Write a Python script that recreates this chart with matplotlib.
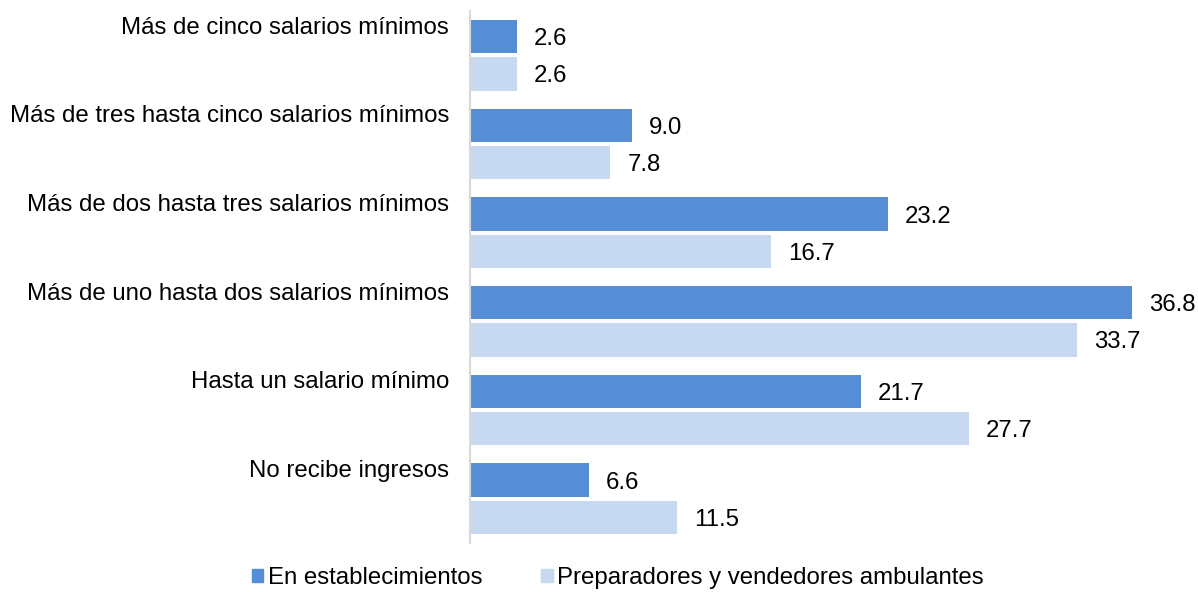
import matplotlib.pyplot as plt
import matplotlib.patches as mpatches
import numpy as np

plt.rcParams["font.family"] = ["Liberation Sans", "DejaVu Sans"]

# ── DATA ──────────────────────────────────────────────────────────────────────
categories = [
    "No recibe ingresos",
    "Hasta un salario mínimo",
    "Más de uno hasta dos salarios mínimos",
    "Más de dos hasta tres salarios mínimos",
    "Más de tres hasta cinco salarios mínimos",
    "Más de cinco salarios mínimos",
]
establecimientos = [6.6, 21.7, 36.8, 23.2, 9.0, 2.6]
ambulantes = [11.5, 27.7, 33.7, 16.7, 7.8, 2.6]
series_names = ["En establecimientos", "Preparadores y vendedores ambulantes"]

# ── THEME ─────────────────────────────────────────────────────────────────────
DARK = "#558ED5"
LIGHT = "#C6D9F1"
FS = 17.3

fig = plt.figure(figsize=(11.98, 5.92), dpi=100)
ax = fig.add_axes([470 / 1198, 1 - 543 / 592, 720 / 1198, 532 / 592])

y = np.arange(len(categories))
h = 0.375
off = 0.21
b1 = ax.barh(y + off, establecimientos, height=h, color=DARK)
b2 = ax.barh(y - off, ambulantes, height=h, color=LIGHT)

for bars in (b1, b2):
    for r in bars:
        w = r.get_width()
        ax.text(w + 0.95, r.get_y() + r.get_height() / 2, f"{w:.1f}",
                ha="left", va="center_baseline", fontsize=FS, color="black")

ax.set_xlim(0, 40)
ax.set_ylim(-0.5, len(categories) - 0.5)
ax.set_xticks([])
ax.set_yticks(y + 0.34)
ax.set_yticklabels(categories, fontsize=FS)
ax.tick_params(axis="y", length=0, pad=15)
for s in ("top", "right", "bottom"):
    ax.spines[s].set_visible(False)
ax.spines["left"].set_color("#D9D9D9")
ax.spines["left"].set_linewidth(1.5)

handles = [mpatches.Patch(color=DARK, label=series_names[0]),
           mpatches.Patch(color=LIGHT, label=series_names[1])]
fig.legend(handles=handles, loc="center", ncol=2,
           bbox_to_anchor=(618 / 1198, 1 - 578 / 592),
           frameon=False, fontsize=FS,
           handlelength=0.47, handleheight=0.47,
           handletextpad=0.2, columnspacing=2.45)

fig.savefig("out.png", dpi=100)
